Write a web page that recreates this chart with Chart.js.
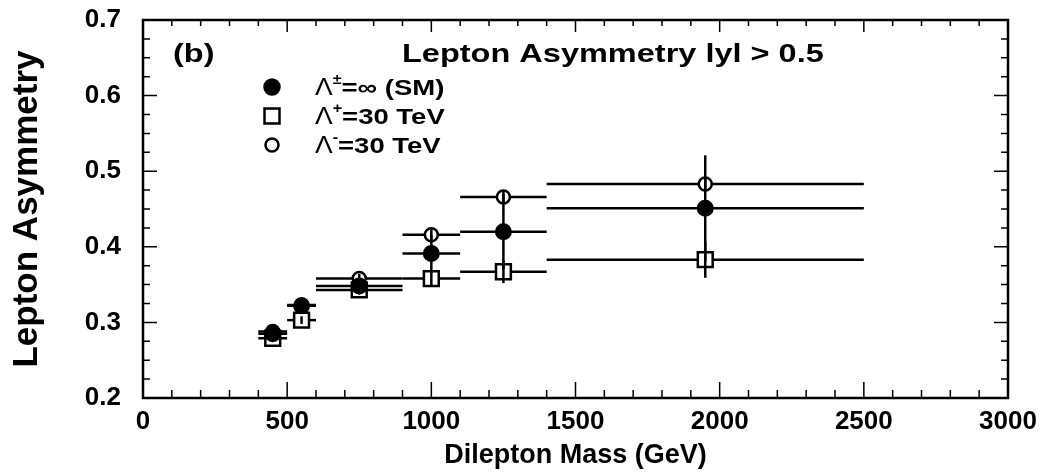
<!DOCTYPE html>
<html lang="en">
<head>
<meta charset="UTF-8">
<title>Lepton Asymmetry</title>
<script src="https://cdn.jsdelivr.net/npm/chart.js"></script>
<style>
  html, body { margin: 0; padding: 0; background: #fff; }
  .wrap { width: 1055px; height: 474px; }
</style>
</head>
<body>
<div class="wrap"><canvas id="asymChart" width="1055" height="474"></canvas></div>
<script>
// dilepton mass bins (GeV): centre, low edge, high edge
const massBins = [450, 550, 750, 1000, 1250, 1950];
const binLow = [400, 500, 600, 900, 1100, 1400];
const binHigh = [500, 600, 900, 1100, 1400, 2500];

// Standard Model, Lambda = infinity
const asymSM = [0.285, 0.322, 0.348, 0.391, 0.420, 0.451];
const errSM = [0.006, 0.007, 0.008, 0.025, 0.050, 0.070];
// Lambda+ = 30 TeV
const asymPlus = [0.279, 0.303, 0.343, 0.358, 0.367, 0.383];
const errPlus = [0.004, 0.005, 0.006, 0.010, 0.015, 0.024];
// Lambda- = 30 TeV
const asymMinus = [0.288, 0.323, 0.358, 0.416, 0.466, 0.483];
const errMinus = [0.004, 0.005, 0.006, 0.008, 0.008, 0.010];

const xTicks = [0, 500, 1000, 1500, 2000, 2500, 3000];
const yTicks = [0.2, 0.3, 0.4, 0.5, 0.6, 0.7];

const FONT = "'Liberation Sans', Arial, Helvetica, sans-serif";

function points(vals) {
    return massBins.map((m, i) => ({ x: m, y: vals[i] }));
}

// horizontal bin-width bars under the markers, vertical error bars on top
const errorBars = {
    id: 'errorBars',
    beforeDatasetsDraw(chart) {
        const { ctx, scales: { x, y } } = chart;
        ctx.save();
        ctx.strokeStyle = '#000';
        ctx.lineWidth = 2.5;
        chart.data.datasets.forEach(ds => {
            ds.data.forEach((p, i) => {
                const py = y.getPixelForValue(p.y);
                ctx.beginPath();
                ctx.moveTo(x.getPixelForValue(ds.xLow[i]), py);
                ctx.lineTo(x.getPixelForValue(ds.xHigh[i]), py);
                ctx.stroke();
            });
        });
        ctx.restore();
    },
    afterDatasetsDraw(chart) {
        const { ctx, scales: { x, y } } = chart;
        ctx.save();
        ctx.strokeStyle = '#000';
        ctx.lineWidth = 2.5;
        chart.data.datasets.forEach(ds => {
            ds.data.forEach((p, i) => {
                const px = x.getPixelForValue(p.x);
                ctx.beginPath();
                ctx.moveTo(px, y.getPixelForValue(p.y - ds.yErr[i]));
                ctx.lineTo(px, y.getPixelForValue(p.y + ds.yErr[i]));
                ctx.stroke();
            });
        });
        ctx.restore();
    }
};

function drawMarker(ctx, style, cx, cy) {
    ctx.save();
    ctx.lineWidth = 2.5;
    ctx.strokeStyle = '#000';
    ctx.beginPath();
    if (style === 'rect') {
        ctx.rect(cx - 7.5, cy - 7.5, 15, 15);
        ctx.fillStyle = '#fff';
    } else {
        ctx.arc(cx, cy, style === 'filled' ? 7.5 : 6.5, 0, Math.PI * 2);
        ctx.fillStyle = style === 'filled' ? '#000' : '#fff';
    }
    ctx.fill();
    ctx.stroke();
    ctx.restore();
}

// text drawn a little wider than the font's natural width
function wideText(ctx, text, x, y, sx) {
    ctx.save();
    ctx.translate(x, y);
    ctx.scale(sx, 1);
    ctx.fillText(text, 0, 0);
    const w = ctx.measureText(text).width * sx;
    ctx.restore();
    return w;
}

// frame, inward ticks on all four sides, panel label and legend
const frameAndLabels = {
    id: 'frameAndLabels',
    afterDraw(chart) {
        const { ctx, chartArea: a, scales: { x, y } } = chart;
        ctx.save();
        ctx.strokeStyle = '#000';
        ctx.lineWidth = 1.5;
        for (let v = 0; v <= 3000; v += 100) {
            const px = x.getPixelForValue(v);
            const major = v % 500 === 0;
            ctx.beginPath();
            ctx.moveTo(px, a.bottom);
            ctx.lineTo(px, a.bottom - (major ? 16 : 8));
            ctx.moveTo(px, a.top);
            ctx.lineTo(px, a.top + (major ? 12 : 6));
            ctx.stroke();
        }
        for (let k = 0; k <= 20; k++) {
            const py = y.getPixelForValue(0.2 + k * 0.025);
            const major = k % 4 === 0;
            ctx.beginPath();
            ctx.moveTo(a.left, py);
            ctx.lineTo(a.left + (major ? 14 : 7), py);
            ctx.moveTo(a.right, py);
            ctx.lineTo(a.right - (major ? 14 : 7), py);
            ctx.stroke();
        }
        ctx.lineWidth = 2.5;
        ctx.strokeRect(a.left, a.top, a.right - a.left, a.bottom - a.top);

        ctx.fillStyle = '#000';
        ctx.textBaseline = 'alphabetic';
        ctx.font = 'bold 25px ' + FONT;
        wideText(ctx, '(b)', a.left + 30, a.top + 42, 1.3);
        wideText(ctx, 'Lepton Asymmetry lyl > 0.5', a.left + 259, a.top + 42, 1.3);

        const rows = [
            { style: 'filled', sup: '\u00b1', rest: '=\u221e (SM)' },
            { style: 'rect', sup: '+', rest: '=30 TeV' },
            { style: 'open', sup: '-', rest: '=30 TeV' }
        ];
        rows.forEach((r, i) => {
            const cy = a.top + 67 + i * 29;
            drawMarker(ctx, r.style, a.left + 129, cy);
            let tx = a.left + 172;
            ctx.font = '23px ' + FONT;
            tx += wideText(ctx, '\u039b', tx, cy + 8, 1.15);
            ctx.font = 'bold 14px ' + FONT;
            tx += wideText(ctx, r.sup, tx, cy - 3, 1.15);
            ctx.font = 'bold 22px ' + FONT;
            wideText(ctx, r.rest, tx, cy + 8, 1.25);
        });
        ctx.restore();
    }
};

const ctx = document.getElementById('asymChart');
new Chart(ctx, {
    type: 'scatter',
    data: {
        datasets: [
            {
                label: 'SM',
                data: points(asymSM),
                xLow: binLow, xHigh: binHigh, yErr: errSM,
                pointStyle: 'circle',
                pointRadius: 7.5,
                backgroundColor: '#000',
                borderColor: '#000',
                borderWidth: 2
            },
            {
                label: 'Lambda+ = 30 TeV',
                data: points(asymPlus),
                xLow: binLow, xHigh: binHigh, yErr: errPlus,
                pointStyle: 'rect',
                pointRadius: 10.5,
                backgroundColor: '#fff',
                borderColor: '#000',
                borderWidth: 2.5
            },
            {
                label: 'Lambda- = 30 TeV',
                data: points(asymMinus),
                xLow: binLow, xHigh: binHigh, yErr: errMinus,
                pointStyle: 'circle',
                pointRadius: 6.5,
                backgroundColor: '#fff',
                borderColor: '#000',
                borderWidth: 2.5
            }
        ]
    },
    options: {
        responsive: false,
        animation: false,
        devicePixelRatio: 1,
        layout: { padding: { top: 20, right: 47, left: 0, bottom: 0 } },
        plugins: {
            legend: { display: false },
            tooltip: { enabled: false }
        },
        scales: {
            x: {
                type: 'linear',
                min: 0,
                max: 3000,
                afterBuildTicks: s => { s.ticks = xTicks.map(v => ({ value: v })); },
                afterFit: s => { s.height = 76; },
                grid: { display: false, drawTicks: false },
                border: { display: false },
                ticks: {
                    color: '#000',
                    padding: 8,
                    maxRotation: 0,
                    font: { family: FONT, size: 26, weight: 'bold' },
                    callback: v => String(v)
                },
                title: {
                    display: true,
                    text: 'Dilepton Mass (GeV)',
                    color: '#000',
                    font: { family: FONT, size: 27, weight: 'bold' },
                    padding: { top: 0, bottom: 2 }
                }
            },
            y: {
                min: 0.2,
                max: 0.7,
                afterBuildTicks: s => { s.ticks = yTicks.map(v => ({ value: v })); },
                afterFit: s => { s.width = 143; s.paddingTop = 0; s.paddingBottom = 0; },
                grid: { display: false, drawTicks: false },
                border: { display: false },
                ticks: {
                    color: '#000',
                    padding: 22,
                    font: { family: FONT, size: 26, weight: 'bold' },
                    callback: v => v.toFixed(1)
                },
                title: {
                    display: true,
                    text: 'Lepton Asymmetry',
                    color: '#000',
                    font: { family: FONT, size: 35, weight: 'bold' },
                    padding: { top: 6, bottom: 0 }
                }
            }
        }
    },
    plugins: [errorBars, frameAndLabels]
});
</script>
</body>
</html>
